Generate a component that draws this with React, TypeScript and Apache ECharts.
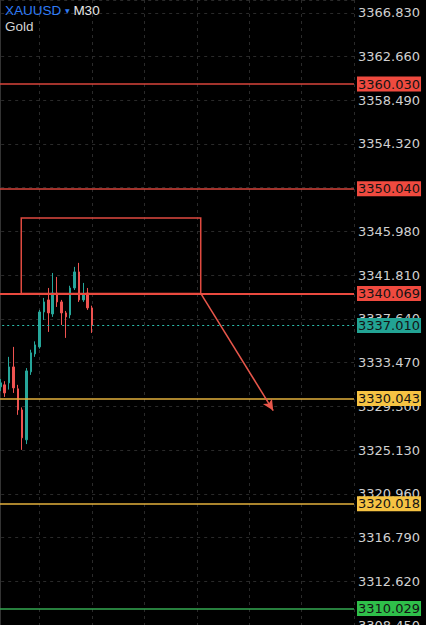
import React, { useEffect, useRef } from 'react';
import * as echarts from 'echarts';

// Candle positions (bar index on the time axis)
const candleIndex = [0, 1, 2, 3, 4, 5, 6, 7, 8, 9, 10, 11, 12, 13, 14, 15, 16, 17, 18, 19, 20, 21];
const opens = [3331.16, 3331.35, 3331.54, 3333.06, 3330.97, 3328.96, 3326.11, 3332.59, 3334.3, 3334.97, 3338.3, 3339.45, 3338.11, 3340.11, 3339.26, 3338.21, 3338.02, 3340.59, 3342.12, 3339.45, 3340.11, 3338.69];
const closes = [3331.54, 3330.58, 3333.06, 3331.06, 3328.96, 3326.3, 3332.68, 3334.4, 3335.16, 3338.3, 3339.26, 3338.21, 3340.11, 3339.26, 3338.21, 3337.83, 3340.59, 3342.12, 3339.45, 3339.92, 3338.69, 3337.01];
const lows = [3330.75, 3330.2, 3330.9, 3330.58, 3328.49, 3325.15, 3325.7, 3332.3, 3334.02, 3334.8, 3337.54, 3336.4, 3337.83, 3338.78, 3337.06, 3335.83, 3337.7, 3340.4, 3339.26, 3339.26, 3338.5, 3336.3];
const highs = [3331.9, 3331.7, 3334.02, 3334.97, 3331.35, 3329.2, 3332.95, 3334.7, 3335.5, 3338.5, 3339.64, 3340.59, 3342.02, 3341.64, 3339.45, 3338.4, 3340.8, 3342.6, 3342.98, 3341.07, 3340.59, 3338.9];

// Horizontal price levels
const redLevels = [3360.03, 3350.04, 3340.069];
const currentPrice = 3337.01;
const yellowLevels = [3330.043, 3320.018];
const greenLevels = [3310.029];

// Drawn zone (rectangle) and arrow, in [bar index, price]
const zoneStart = 4.8;
const zoneEnd = 45.9;
const zoneTop = 3347.27;
const zoneBottom = 3340.069;
const arrowFrom = [45.9, 3340.069];
const arrowTo = [62.5, 3328.9];

// Axis scales
const yMin = 3308.45;
const yMax = 3368.05;
const yStep = 4.17;
const xMin = -3;
const xMax = 81;
const xStep = 12;

export default function App() {
  const ref = useRef<HTMLDivElement>(null);

  useEffect(() => {
    document.body.style.margin = '0';
    document.body.style.background = '#000';
    const chart = echarts.init(ref.current!, null, { renderer: 'svg' });

    const labelFont = { fontFamily: 'DejaVu Sans', fontSize: 13, lineHeight: 13 };
    const level = (v: number, lineColor: string, boxColor: string, width: number, type: any = 'solid') => ({
      yAxis: v,
      lineStyle: { color: lineColor, width, type },
      label: {
        show: true,
        position: 'end',
        distance: 3,
        formatter: () => v.toFixed(3),
        backgroundColor: boxColor,
        color: '#141414',
        padding: [1, 1, 1, 1],
        ...labelFont,
      },
    });

    const data = candleIndex.map((x, i) => [x, opens[i], closes[i], lows[i], highs[i]]);

    chart.setOption({
      animation: false,
      backgroundColor: '#000000',
      title: {
        left: 5,
        top: 2,
        padding: 0,
        itemGap: 0,
        text: '{a|XAUUSD} {b|▼} {c|M30}',
        textStyle: {
          fontFamily: 'Liberation Sans',
          fontSize: 13.5,
          fontWeight: 'normal',
          lineHeight: 16,
          color: '#e6e6e6',
          rich: {
            a: { color: '#2f7cf6', fontSize: 13.5, fontFamily: 'Liberation Sans', lineHeight: 16 },
            b: { color: '#2f7cf6', fontSize: 6, fontFamily: 'DejaVu Sans', lineHeight: 16 },
            c: { color: '#e6e6e6', fontSize: 13.5, fontFamily: 'Liberation Sans', lineHeight: 16 },
          },
        },
        subtext: 'Gold',
        subtextStyle: { color: '#d4d4d4', fontSize: 13.5, fontFamily: 'Liberation Sans', lineHeight: 16 },
      },
      grid: { left: -12.8, right: 72, top: 0, bottom: 0, containLabel: false, outerBoundsMode: 'none' },
      xAxis: {
        type: 'value',
        min: xMin,
        max: xMax,
        interval: xStep,
        axisLine: { show: false },
        axisTick: { show: false },
        axisLabel: { show: false },
        splitLine: { show: true, lineStyle: { color: '#2a2a2a', type: [3, 4], width: 1 } },
      },
      yAxis: {
        type: 'value',
        position: 'right',
        min: yMin,
        max: yMax,
        interval: yStep,
        axisLine: { show: true, lineStyle: { color: '#333333', width: 1 } },
        axisTick: { show: false },
        axisLabel: {
          show: true,
          margin: 4,
          color: '#d0d0d0',
          fontFamily: 'DejaVu Sans',
          fontSize: 13,
          showMaxLabel: false,
          showMinLabel: true,
          formatter: (v: number) => v.toFixed(3),
        },
        splitLine: { show: true, lineStyle: { color: '#2a2a2a', type: [3, 4], width: 1 } },
      },
      series: [
        {
          type: 'candlestick',
          data,
          encode: { x: 0, y: [1, 2, 3, 4] },
          barWidth: 2,
          emphasis: { disabled: true },
          itemStyle: {
            color: '#26a69a',
            color0: '#ef5350',
            borderColor: '#26a69a',
            borderColor0: '#ef5350',
            borderWidth: 1,
          },
          markArea: {
            silent: true,
            label: { show: false },
            itemStyle: { color: 'rgba(0,0,0,0)', borderColor: '#e04a40', borderWidth: 1.5 },
            data: [[{ coord: [zoneStart, zoneTop] }, { coord: [zoneEnd, zoneBottom] }]],
          },
          markLine: {
            silent: true,
            symbol: ['none', 'none'],
            precision: 3,
            data: [
              level(redLevels[0], '#d9453b', '#ef4a3f', 1.5),
              level(redLevels[1], '#d9453b', '#ef4a3f', 1.5),
              level(redLevels[2], '#ea4a3f', '#ef4a3f', 2),
              level(currentPrice, '#2bbfad', '#22a394', 1.2, [2, 3]),
              level(yellowLevels[0], '#e3b03c', '#f6c343', 1.5),
              level(yellowLevels[1], '#e3b03c', '#f6c343', 1.5),
              level(greenLevels[0], '#35a852', '#2fbf4a', 1.5),
              [
                { coord: arrowFrom, symbol: 'none', lineStyle: { color: '#e8574b', width: 1.5, type: 'solid' }, label: { show: false } },
                { coord: arrowTo, symbol: 'arrow', symbolSize: [8, 11], lineStyle: { color: '#e8574b', width: 1.5, type: 'solid' }, label: { show: false } },
              ],
            ],
          },
        },
      ],
    });

    return () => chart.dispose();
  }, []);

  return <div ref={ref} style={{ position: 'absolute', left: 0, top: 0, width: 426, height: 625 }} />;
}
